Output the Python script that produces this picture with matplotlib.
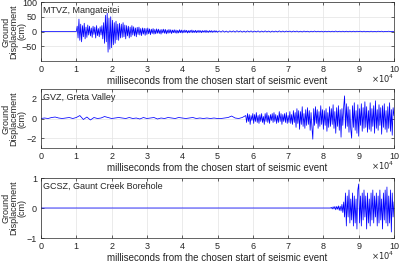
import numpy as np
import matplotlib
matplotlib.use("Agg")
import matplotlib.pyplot as plt
from matplotlib.ticker import FuncFormatter

plt.rcParams['font.family'] = 'Liberation Sans'

# ---------------- data ----------------
station_names = ["MTVZ, Mangateitei", "GVZ, Greta Valley", "GCSZ, Gaunt Creek Borehole"]
y_limits = [(-100, 100), (-3, 3), (-1, 1)]
y_ticks = [[-50, 0, 50, 100], [-2, 0, 2], [-1, 0, 1]]
x_ticks = [0, 10000, 20000, 30000, 40000, 50000, 60000, 70000, 80000, 90000, 100000]
x_scale = 10000  # x tick labels shown in units of 10^4

# MTVZ (cm), segments: (start ms, step ms, values)
mtvz_quiet_v = [0, 0]
mtvz_a = [0, 18, -22, 42, -30, 25, -35, 20, -18, 28, -25, 15, -20, 22, -12, 18]
mtvz_b = [-15, 12, -20, 18, -10, 15, -22, 20, -14, 10, -18, 16, -12, 20, -25, 30]
mtvz_c = [-40, 55, -35, 62, -70, 45, -60, 50, -55, 38, -45, 30, -40, 35, -28, 25]
mtvz_d = [-30, 28, -22, 25, -20, 30, -18, 22, -25, 20, -15, 18, -22, 15, -18, 20,
          -12, 16, -15, 12, -18, 14, -10, 15, -12, 10, -14, 12, -9, 11, -13, 10]
mtvz_e = [-10, 12, -8, 9, -11, 8, -7, 10, -9, 7, -8, 9, -6, 8, -7, 6, -9, 7, -5, 8,
          -6, 7, -8, 5, -6, 7, -5, 6, -7, 5, -4, 6, -5, 5, -6, 4, -5, 6, -4, 5]
mtvz_f = [-5, 4, -4, 5, -3, 4, -5, 3, -4, 4, -3, 5, -4, 3, -3, 4, -4, 3, -3, 4,
          -3, 3, -4, 3, -2, 3, -3, 4, -3, 2, -3, 3, -2, 3, -3, 2, -2, 3, -2, 2]
mtvz_g = [-2.5, 2, -2, 2.5, -2, 1.5, -2.5, 2, -1.5, 2, -2, 2.5, -1.5, 2, -2, 1.5,
          -2, 2, -1.5, 2, -2, 1.5, -1.5, 2, -2, 1.5, -1.5, 2, -1.5, 1.5, -2, 1.5,
          -1.5, 1.5, -1.5, 2, -1.5, 1.5, -1.5, 1.5, -1, 1.5, -1.5, 1.5, -1, 1.5,
          -1.5, 1, -1.5, 1.5, -1, 1, -1.5, 1, -1, 1.5, -1, 1, -1, 1, -1.5, 1, -1,
          1, -1, 1, -1, 1.5, -1, 1, -1, 1, -1, 1, -1, 1, -1, 1, -1, 1, -0.5, 1, -1,
          1, -1, 0.5, -1, 1, -1, 0.5, -1, 1, -0.5, 1, -1, 0.5, -0.5, 1, -0.5, 0.5, 0]

# GVZ (cm)
gvz_low = [0.0, 0.05, 0.0, 0.1, 0.15, 0.05, 0.0, 0.05, 0.1, 0.0, 0.1, 0.3, -0.1, 0.15,
           -0.15, 0.1, 0.0, 0.05, 0.2, 0.1, 0.0, 0.05, 0.1, 0.05, 0.0, 0.1, 0.0, 0.05,
           -0.05, 0.1, 0.0, 0.05, 0.1, -0.05, 0.05, 0.0, 0.1, 0.05, 0.0, 0.1, 0.05, 0.0,
           0.05, 0.1, 0.0, 0.05, 0.0, 0.05, 0.0, 0.05, 0.0, 0.0, 0.05, 0.1, 0.25, 0.05,
           0.0, 0.1]
gvz_a = [0.3, -0.4, 0.5, -0.3, 0.4, -0.6, 0.3, -0.2, 0.5, -0.5, 0.4, -0.3, 0.6, -0.4,
         0.3, -0.5, 0.4, -0.3, 0.5, -0.4, 0.2, -0.6, 0.5, -0.3, 0.6, -0.4, 0.3, -0.5,
         0.4, -0.2, 0.5, -0.4, 0.6, -0.3, 0.4, -0.5, 0.3, -0.4, 0.7, -0.3, 0.5, -0.6,
         0.4, -0.3, 0.5, -0.4, 0.6, -0.5, 0.3, -0.4, 0.7, -0.5, 0.4, -0.6, 0.8, -0.4]
gvz_b = [0.6, -0.9, 1.0, -0.5, 0.8, -1.1, 0.7, -0.6, 1.2, -0.8, 0.5, -1.0, 0.9, -0.7,
         1.1, -0.6, 0.8, -1.2, 0.6, -0.9, -2.1, 1.0, -0.7, 1.2, -0.5, 0.9, -1.0, 0.7,
         -0.8, 1.3, -0.6, 0.9, -1.1, 0.8, -0.7, 1.0, -1.3, 0.6, -0.9, 1.2, -0.8, 1.0,
         -0.6, 1.4, -1.0, 0.7, -1.5, 1.1, -0.8, 1.3, -1.2, 0.9, -1.9, 1.0, -0.7, 1.2]
gvz_c = [2.3, -1.0, 1.5, -0.8, 1.2, -1.4, 0.9, -1.1, -2.0, 1.3, -0.9, 1.6, -1.2, 0.8,
         -1.5, 1.4, -1.8, 1.0, -0.7, 1.5, -1.3, 1.1, -1.0, 1.7, -0.9, 1.2, -1.4, 0.8,
         -1.1, 1.6, -1.3, 1.0, -0.8, 1.3, -1.5, 1.8, -1.0, 0.9, -1.2, 1.4, -0.7, 1.1,
         -1.6, 1.3, -0.9, 1.5, -1.1, 0.8, -1.4, 1.2, -1.0, 1.6, -1.3, 0.9, -1.7, 1.1, 0.3]

# GCSZ (cm)
gcsz_quiet_v = [0, 0]
gcsz_a = [0.0, 0.02, -0.03, 0.04, -0.03, 0.05, -0.06, 0.05, -0.04, 0.07, -0.08, 0.06,
          -0.1, 0.12, -0.15, 0.2]
gcsz_b = [-0.3, 0.5, -0.6, 0.4, -0.3, 0.6, -0.5, 0.3, -0.4, 0.5, -0.6, 0.4, -0.5, 0.3,
          -0.7, 0.6, 0.8, -0.5, 0.4, -0.6, 0.5, -0.4, 0.6, -0.3, 0.4, -0.7, 0.5, -0.5,
          0.3, -0.6, 0.5, -0.4, 0.6, -0.5, 0.4, -0.3, 0.5, -0.6, 0.4, -0.5, 0.6, -0.4,
          0.3, -0.7, 0.5, -0.4, 0.6, -0.5, 0.7, -0.6, 0.4, -0.5, 0.6, -0.8, 0.5, -0.3, 0.2]


def segs(parts):
    ts, vs = [], []
    for start, step, vals in parts:
        ts.append(start + step * np.arange(len(vals)))
        vs.append(np.asarray(vals, float))
    return np.concatenate(ts), np.concatenate(vs)


t1, v1 = segs([(0, 10000, mtvz_quiet_v), (10000, 250, mtvz_a), (14000, 250, mtvz_b),
               (18000, 250, mtvz_c), (22000, 250, mtvz_d), (30000, 250, mtvz_e),
               (40000, 250, mtvz_f), (50000, 500, mtvz_g)])
t2, v2 = segs([(0, 1000, gvz_low), (58000, 250, gvz_a), (72000, 250, gvz_b),
               (86000, 250, gvz_c)])
t3, v3 = segs([(0, 82000, gcsz_quiet_v), (82000, 250, gcsz_a), (86000, 250, gcsz_b)])
series = [(t1, v1), (t2, v2), (t3, v3)]

# ---------------- figure ----------------
fig = plt.figure(figsize=(3.99, 2.66), dpi=100)
W, H = 399, 266
boxes = [(2, 61), (89, 148), (178, 238)]
left, right = 41, 394
txt = '#262626'

for i, ((top, bot), (t, v)) in enumerate(zip(boxes, series)):
    h = bot - top
    ax = fig.add_axes([left / W, 1 - bot / H, (right - left) / W, h / H])
    ax.plot(t, v, color=(0, 0, 1), lw=0.55)
    ax.set_xlim(0, 100000)
    ax.set_ylim(*y_limits[i])
    ax.set_xticks(x_ticks)
    ax.set_yticks(y_ticks[i])
    ax.xaxis.set_major_formatter(FuncFormatter(lambda x, p: f"{x / x_scale:g}"))
    ax.grid(True, color='#e3e3e3', lw=0.5)
    ax.set_axisbelow(True)
    ax.tick_params(direction='in', length=2, width=0.5, labelsize=6.5, pad=3,
                   colors=txt, top=True, right=True)
    for s in ax.spines.values():
        s.set_linewidth(0.5)
        s.set_color(txt)
    ax.set_xlabel("milliseconds from the chosen start of seismic event", fontsize=7,
                  labelpad=1, color=txt)
    ax.text(0.007, 0.93, station_names[i], transform=ax.transAxes, fontsize=6.5,
            va='top', ha='left', color=txt)
    ax.text(1.0, -12 / h, r"$\times10^{4}$", transform=ax.transAxes, fontsize=6,
            va='top', ha='right', color=txt)

for top, bot in boxes:
    fig.text(14 / W, 1 - (top + bot) / 2 / H, "Ground\nDisplacement\n(cm)",
             rotation=90, fontsize=6.5, linespacing=0.85, color=txt,
             ha='center', va='center')

fig.savefig("out.png", dpi=100)
